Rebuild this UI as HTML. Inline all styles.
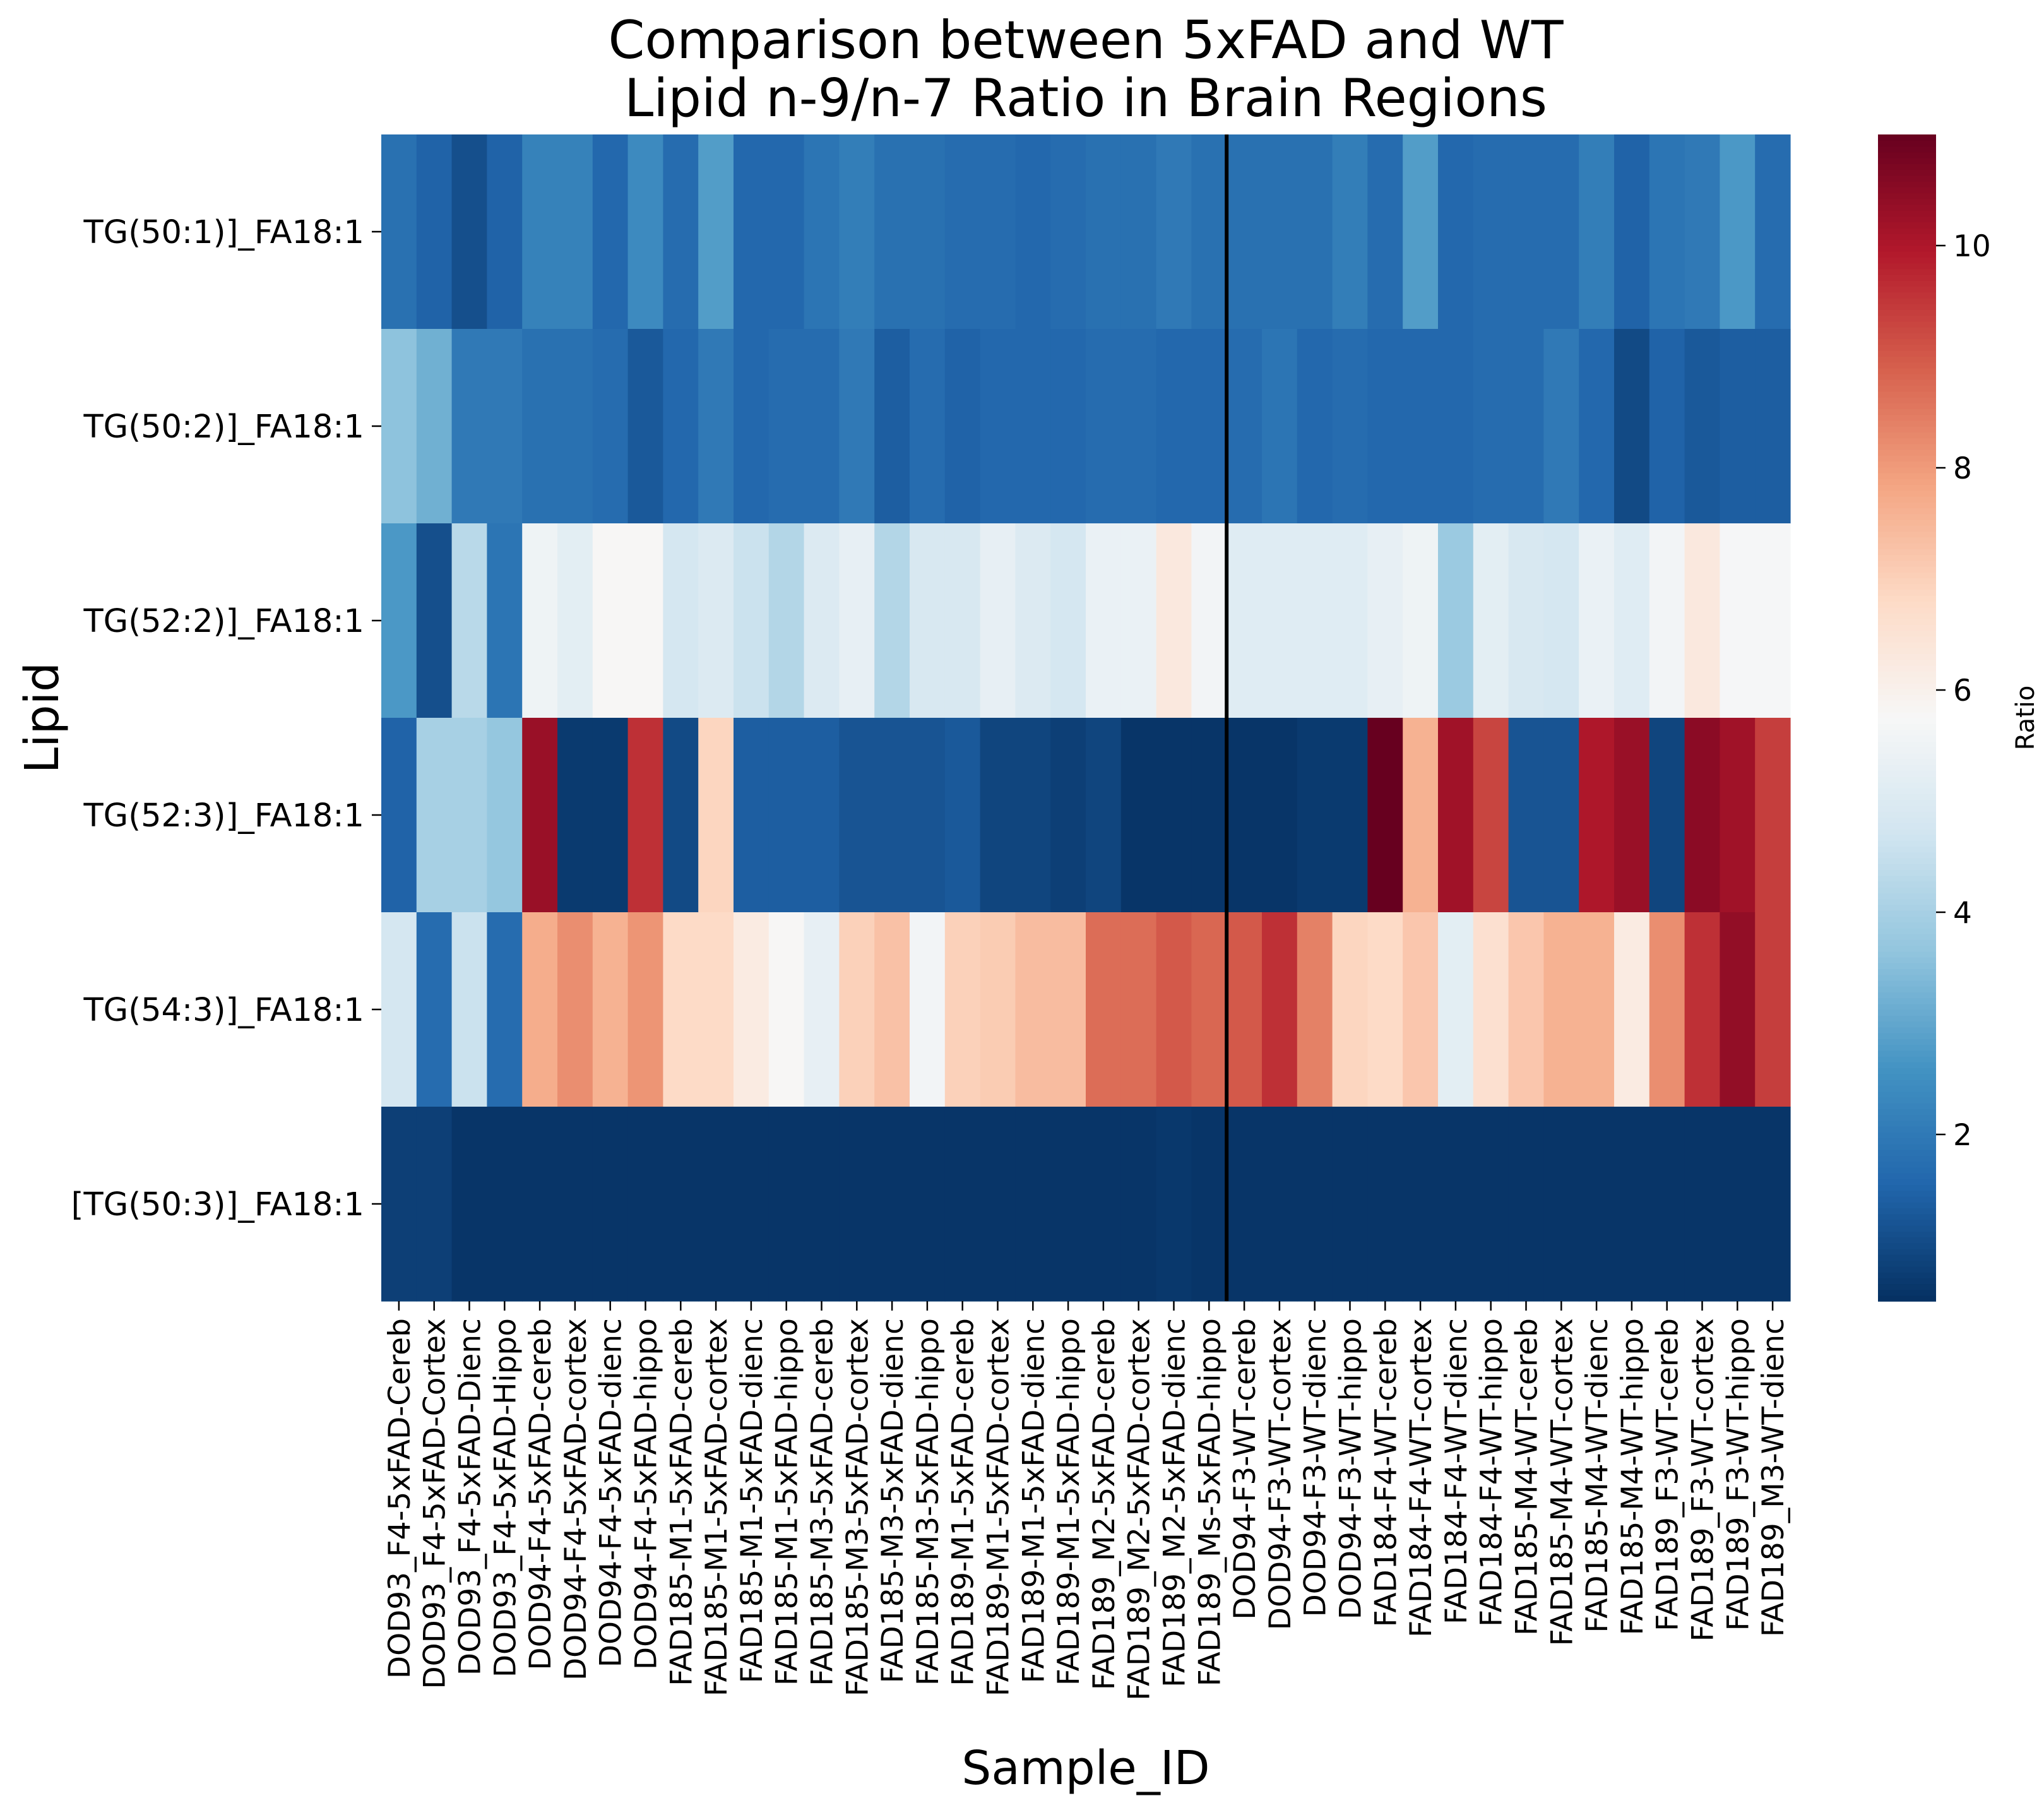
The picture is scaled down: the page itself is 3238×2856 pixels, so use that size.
<!DOCTYPE html>
<html><head><meta charset="utf-8">
<style>body{margin:0;background:#fff}svg{display:block}text{font-family:"DejaVu Sans","Liberation Sans",sans-serif;fill:#000}</style>
</head><body>
<svg id="chart" width="3238" height="2856" viewBox="0 0 3238 2856" xmlns="http://www.w3.org/2000/svg">
<text x="1720" y="92" font-size="83" text-anchor="middle">Comparison between 5xFAD and WT</text>
<text x="1720" y="184" font-size="83" text-anchor="middle">Lipid n-9/n-7 Ratio in Brain Regions</text>
<text x="0" y="0" font-size="74" text-anchor="middle" transform="translate(92,1137) rotate(-90)">Lipid</text>
<text x="1720" y="2826" font-size="74" text-anchor="middle">Sample_ID</text>
<text x="0" y="0" font-size="40" text-anchor="middle" transform="translate(3222,1137) rotate(-90)">Ratio</text>
<g id="cells"></g><g id="xt"></g><g id="yt"></g><g id="cb"></g>
</svg>
<script>
const rows=["TG(50:1)]_FA18:1","TG(50:2)]_FA18:1","TG(52:2)]_FA18:1","TG(52:3)]_FA18:1","TG(54:3)]_FA18:1","[TG(50:3)]_FA18:1"];
const cols=["DOD93_F4-5xFAD-Cereb","DOD93_F4-5xFAD-Cortex","DOD93_F4-5xFAD-Dienc","DOD93_F4-5xFAD-Hippo","DOD94-F4-5xFAD-cereb","DOD94-F4-5xFAD-cortex","DOD94-F4-5xFAD-dienc","DOD94-F4-5xFAD-hippo","FAD185-M1-5xFAD-cereb","FAD185-M1-5xFAD-cortex","FAD185-M1-5xFAD-dienc","FAD185-M1-5xFAD-hippo","FAD185-M3-5xFAD-cereb","FAD185-M3-5xFAD-cortex","FAD185-M3-5xFAD-dienc","FAD185-M3-5xFAD-hippo","FAD189-M1-5xFAD-cereb","FAD189-M1-5xFAD-cortex","FAD189-M1-5xFAD-dienc","FAD189-M1-5xFAD-hippo","FAD189_M2-5xFAD-cereb","FAD189_M2-5xFAD-cortex","FAD189_M2-5xFAD-dienc","FAD189_Ms-5xFAD-hippo","DOD94-F3-WT-cereb","DOD94-F3-WT-cortex","DOD94-F3-WT-dienc","DOD94-F3-WT-hippo","FAD184-F4-WT-cereb","FAD184-F4-WT-cortex","FAD184-F4-WT-dienc","FAD184-F4-WT-hippo","FAD185-M4-WT-cereb","FAD185-M4-WT-cortex","FAD185-M4-WT-dienc","FAD185-M4-WT-hippo","FAD189_F3-WT-cereb","FAD189_F3-WT-cortex","FAD189_F3-WT-hippo","FAD189_M3-WT-dienc"];
const row0=[1.8,1.5,1.1,1.5,2.2,2.2,1.6,2.4,1.7,2.8,1.6,1.6,1.9,2.1,1.8,1.8,1.7,1.7,1.6,1.7,1.8,1.8,2.0,1.8,1.8,1.8,1.8,2.1,1.7,2.8,1.6,1.7,1.7,1.7,2.1,1.5,1.9,2.0,2.7,1.7];
const row1=[3.6,3.2,2.0,2.0,1.8,1.8,1.7,1.3,1.6,2.0,1.6,1.7,1.7,2.0,1.4,1.7,1.5,1.6,1.6,1.6,1.7,1.7,1.6,1.6,1.7,1.9,1.6,1.7,1.6,1.6,1.6,1.7,1.7,2.0,1.6,1.0,1.5,1.3,1.4,1.4];
const row2=[2.7,1.1,4.3,1.9,5.5,5.2,5.8,5.8,4.8,5.0,4.6,4.2,5.0,5.3,4.2,4.9,4.9,5.3,5.0,4.8,5.4,5.4,6.3,5.6,5.1,5.1,5.1,5.1,5.3,5.5,3.8,5.2,4.9,4.8,5.4,5.1,5.6,6.3,5.7,5.7];
const row3=[1.5,4.0,4.0,3.7,10.3,0.7,0.7,9.6,1.0,6.9,1.4,1.4,1.4,1.2,1.2,1.2,1.3,0.9,0.9,0.8,0.9,0.6,0.6,0.6,0.6,0.6,0.7,0.7,11.0,7.6,10.2,9.3,1.2,1.2,10.0,10.3,0.9,10.5,10.2,9.4];
const row4=[4.8,1.7,4.6,1.7,7.7,8.2,7.6,8.1,6.8,6.8,6.2,5.8,5.3,7.0,7.3,5.6,7.0,7.1,7.4,7.4,8.7,8.7,9.0,8.8,9.0,9.6,8.4,6.9,6.8,7.2,5.2,6.6,7.2,7.6,7.6,6.2,8.2,9.6,10.4,9.4];
const row5=[0.8,0.8,0.6,0.6,0.6,0.6,0.6,0.6,0.6,0.6,0.6,0.6,0.6,0.6,0.6,0.6,0.6,0.6,0.6,0.6,0.6,0.6,0.65,0.6,0.6,0.6,0.6,0.6,0.6,0.6,0.6,0.6,0.6,0.6,0.6,0.6,0.6,0.6,0.6,0.6];
const cbTicks=[2,4,6,8,10];
const values=[row0,row1,row2,row3,row4,row5];
const VMIN=0.5,VMAX=11,L=604,R=2836,T=213,B=2061,CBL=2975,CBR=3067;
const stops=["#053061","#2166ac","#4393c3","#92c5de","#d1e5f0","#f7f7f7","#fddbc7","#f4a582","#d6604d","#b2182b","#67001f"].map(h=>[1,3,5].map(i=>parseInt(h.substr(i,2),16)));
function color(v){let t=Math.max(0,Math.min(1,(v-VMIN)/(VMAX-VMIN)))*10;let i=Math.min(9,Math.floor(t)),f=t-i;const c=stops[i].map((a,k)=>Math.round(a+(stops[i+1][k]-a)*f));return `rgb(${c})`;}
const cw=(R-L)/cols.length,rh=(B-T)/rows.length;
const xS=i=>L+i*cw, yS=j=>T+j*rh, cbY=v=>B-(v-VMIN)/(VMAX-VMIN)*(B-T);
const NS="http://www.w3.org/2000/svg";
function mk(tag,attrs,parent,txt){const e=document.createElementNS(NS,tag);for(const k in attrs)e.setAttribute(k,attrs[k]);if(txt!==undefined)e.textContent=txt;parent.appendChild(e);return e;}
const cells=document.getElementById('cells');
values.forEach((row,j)=>row.forEach((v,i)=>{const r=mk('rect',{x:xS(i),y:yS(j),width:cw+0.6,height:rh+0.6,fill:color(v)},cells);

}));
const sep=mk('line',{x1:xS(24),x2:xS(24),y1:T,y2:B,stroke:'#000','stroke-width':6},cells);


const xt=document.getElementById('xt');
cols.forEach((c,i)=>{const x=xS(i)+cw/2;mk('line',{x1:x,x2:x,y1:B,y2:B+15,stroke:'#000','stroke-width':2.5},xt);
const t=mk('text',{x:0,y:0,'font-size':47,'text-anchor':'end',transform:`translate(${x+17},${B+27}) rotate(-90)`},xt,c);

});
const yt=document.getElementById('yt');
rows.forEach((r,j)=>{const y=yS(j)+rh/2;mk('line',{x1:L-15,x2:L,y1:y,y2:y,stroke:'#000','stroke-width':2.5},yt);
const t=mk('text',{x:L-27,y:y+18,'font-size':51,'text-anchor':'end'},yt,r);

});
const cb=document.getElementById('cb');
for(let k=0;k<200;k++){const v0=VMIN+(VMAX-VMIN)*k/200,v1=VMIN+(VMAX-VMIN)*(k+1)/200;mk('rect',{x:CBL,y:cbY(v1),width:CBR-CBL,height:cbY(v0)-cbY(v1)+0.8,fill:color((v0+v1)/2)},cb);}
cbTicks.forEach(v=>{const y=cbY(v);mk('line',{x1:CBR,x2:CBR+15,y1:y,y2:y,stroke:'#000','stroke-width':2.5},cb);
const t=mk('text',{x:CBR+27,y:y+17,'font-size':47},cb,String(v));

});
</script>
</body></html>
